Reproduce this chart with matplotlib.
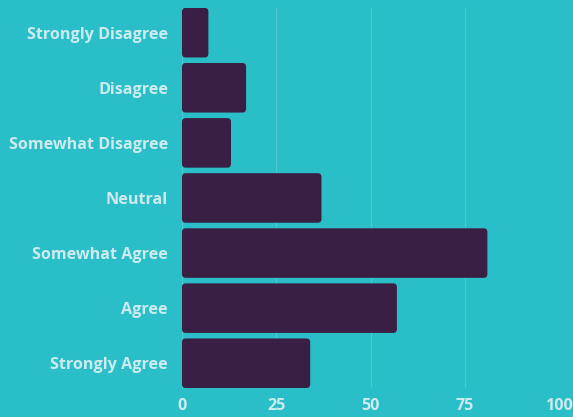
import matplotlib.pyplot as plt
from matplotlib.patches import FancyBboxPatch

categories = ['Strongly Disagree', 'Disagree', 'Somewhat Disagree', 'Neutral',
              'Somewhat Agree', 'Agree', 'Strongly Agree']
counts = [7, 17, 13, 37, 81, 57, 34]
xticks = [0, 25, 50, 75, 100]

bg = '#2abfc8'
bar_color = '#3a1f45'
text_color = '#cdebee'

plt.rcParams['font.family'] = ['Open Sans', 'DejaVu Sans']

fig = plt.figure(figsize=(5.73, 4.17), dpi=100, facecolor=bg)
ax = fig.add_axes([0.3176, 0.0695, 0.658, 0.9115], facecolor=bg)

bars = ax.barh(range(len(categories)), counts, height=0.9, color=bar_color)

# swap plain rectangles for slightly rounded ones
aspect = (6.9 / 380) / (100 / 377)
for b in bars:
    x, y = b.get_x(), b.get_y()
    w, h = b.get_width(), b.get_height()
    b.set_visible(False)
    p = FancyBboxPatch((x, y), w, h, boxstyle='round,pad=0,rounding_size=1.0',
                       mutation_aspect=aspect, facecolor=bar_color,
                       edgecolor='none', zorder=3)
    ax.add_patch(p)

ax.set_yticks(range(len(categories)))
ax.set_yticklabels(categories)
ax.set_ylim(len(categories) - 0.55, -0.45)
ax.set_xlim(0, 100)
ax.set_xticks(xticks)

ax.grid(axis='x', color='#8fdde2', linewidth=0.8, alpha=0.35, zorder=0)
ax.set_axisbelow(True)
for s in ax.spines.values():
    s.set_visible(False)

ax.tick_params(axis='both', length=0, colors=text_color, labelsize=11.6)
ax.tick_params(axis='y', pad=10)
ax.tick_params(axis='x', pad=7)
for lbl in ax.get_xticklabels() + ax.get_yticklabels():
    lbl.set_fontweight('bold')

plt.savefig('out.png', dpi=100, facecolor=bg)
